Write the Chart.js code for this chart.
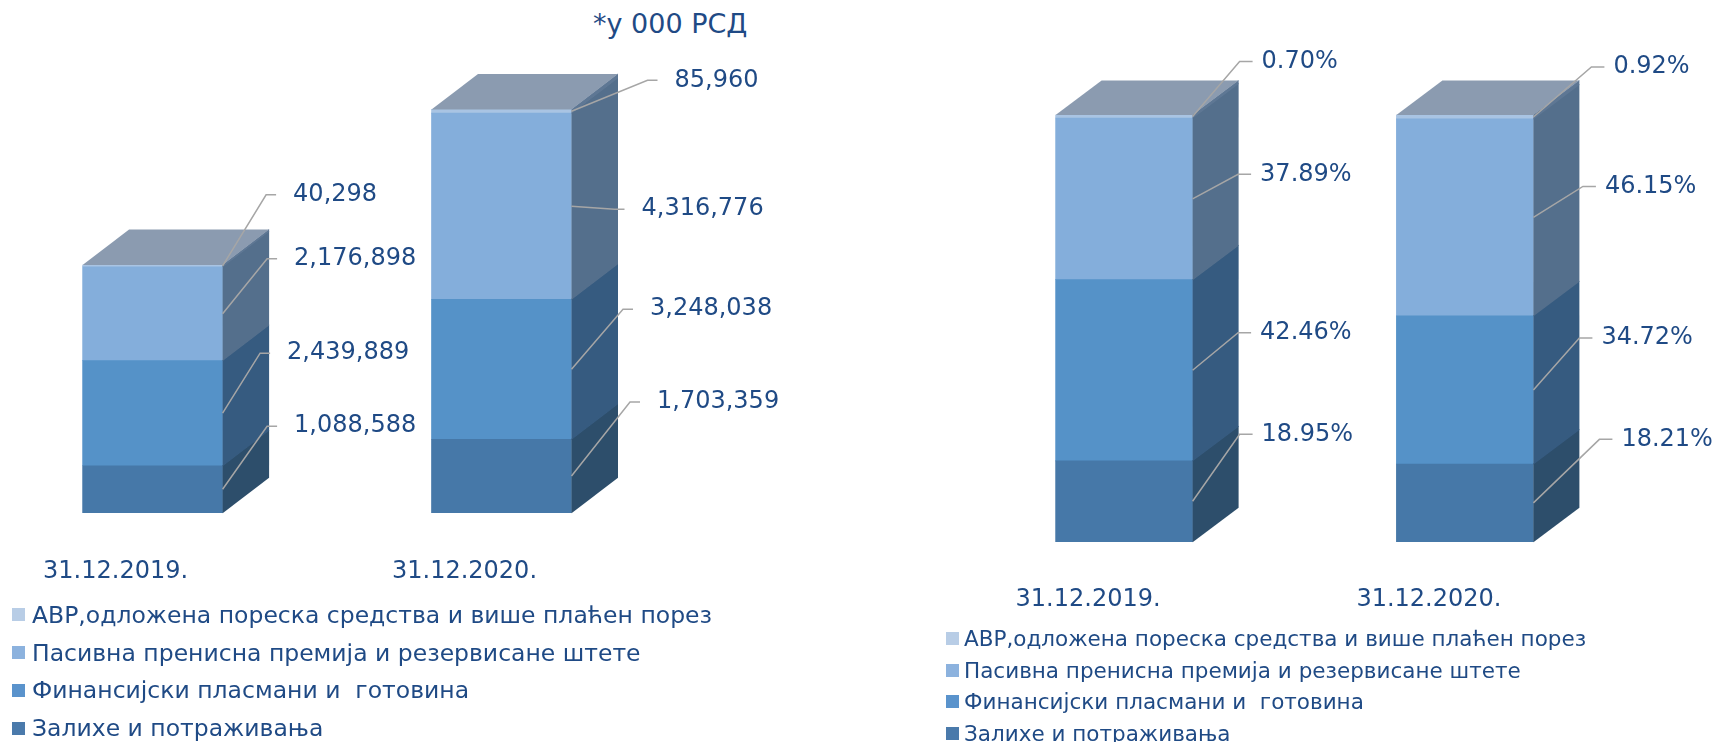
<!DOCTYPE html>
<html>
<head>
<meta charset="utf-8">
<script src="https://cdn.jsdelivr.net/npm/chart.js@4.4.1/dist/chart.umd.min.js"></script>
<style>
    body { margin: 0; width: 1715px; height: 742px; overflow: hidden; background: #fff; font-family: "DejaVu Sans", sans-serif; color: #1F4A85; }
    canvas { position: absolute; top: 0; }
    #amounts { left: 0; }
    #shares { left: 857px; }
    #unit { position: absolute; left: 593px; top: 9px; font-size: 27px; line-height: 30px; white-space: nowrap; }
    .legend { position: absolute; }
    .legend .row { display: flex; align-items: center; white-space: pre; }
    .legend .box { width: 13px; height: 13px; flex: none; }
</style>
</head>
<body>
<div id="unit"></div>
<canvas id="amounts" width="857" height="742"></canvas>
<canvas id="shares" width="858" height="742"></canvas>
<div class="legend" id="legendLeft" style="left:12px; top:596px; font-size:23.5px;"></div>
<div class="legend" id="legendRight" style="left:946px; top:623px; font-size:21.5px;"></div>

<script>
// categories and series, bottom of the stack first
const categories = ['31.12.2019.', '31.12.2020.'];
const seriesNames = [
    'Залихе и потраживања',
    'Финансијски пласмани и  готовина',
    'Пасивна пренисна премија и резервисане штете',
    'АВР,одложена пореска средства и више плаћен порез'
];
const unitNote = '*у 000 РСД';

// amounts, in 000 RSD
const zalihe = [1088588, 1703359];
const finansijski = [2439889, 3248038];
const pasivna = [2176898, 4316776];
const avr = [40298, 85960];

// structure, %
const zaliheShare = [18.95, 18.21];
const finansijskiShare = [42.46, 34.72];
const pasivnaShare = [37.89, 46.15];
const avrShare = [0.70, 0.92];

// styling
const FONT = 'DejaVu Sans';
const textColor = '#1F4A85';
const frontColors = ['#4678A8', '#5592C8', '#84AEDB', '#A9C4E3'];
const sideColors = ['#2D4E6B', '#365B80', '#546F8C', '#5E7794'];
const topColor = '#8B9BB0';
const legendColors = ['#4A7AAB', '#5A93CC', '#8CB2DE', '#B8CDE6'];

// leader elbow offsets [dx from bar edge, dy from segment middle], per series, per bar
const leftOffsets = [
    [[44.5, -63], [58.5, -74]],
    [[37.5, -60], [51.5, -60]],
    [[44.5, -55], [43, 3]],
    [[43.5, -71], [76, -31]]
];
const rightOffsets = [
    [[47, -67], [66, -63.5]],
    [[45.5, -37.5], [46, -52]],
    [[45.5, -24.5], [49.5, -31]],
    [[47, -55], [58, -50]]
];

const bar3d = {
    id: 'bar3d',
    afterDatasetsDraw(chart, args, opts) {
        const ctx = chart.ctx;
        const metas = chart.data.datasets.map((d, i) => chart.getDatasetMeta(i));
        const last = metas.length - 1;
        ctx.save();

        // side faces
        metas.forEach((meta, di) => {
            meta.data.forEach(bar => {
                const p = bar.getProps(['x', 'y', 'base', 'width'], true);
                const r = p.x + p.width / 2;
                ctx.fillStyle = sideColors[di];
                ctx.beginPath();
                ctx.moveTo(r, p.base + 0.5);
                ctx.lineTo(r, p.y - 0.5);
                ctx.lineTo(r + opts.dx, p.y + opts.dy - 0.5);
                ctx.lineTo(r + opts.dx, p.base + opts.dy + 0.5);
                ctx.closePath();
                ctx.fill();
            });
        });

        // top faces
        metas[last].data.forEach(bar => {
            const p = bar.getProps(['x', 'y', 'width'], true);
            const l = p.x - p.width / 2, r = p.x + p.width / 2;
            ctx.fillStyle = topColor;
            ctx.beginPath();
            ctx.moveTo(l, p.y);
            ctx.lineTo(r, p.y);
            ctx.lineTo(r + opts.dx, p.y + opts.dy);
            ctx.lineTo(l + opts.dx, p.y + opts.dy);
            ctx.closePath();
            ctx.fill();
        });

        // leader lines and value labels
        ctx.font = '24px "' + FONT + '"';
        ctx.textBaseline = 'middle';
        ctx.textAlign = 'left';
        metas.forEach((meta, di) => {
            meta.data.forEach((bar, bi) => {
                const p = bar.getProps(['x', 'y', 'base', 'width'], true);
                const r = p.x + p.width / 2;
                const mid = (p.y + p.base) / 2;
                const [ox, oy] = opts.offsets[di][bi];
                const ex = r + ox, ey = mid + oy;
                ctx.strokeStyle = '#A6A6A6';
                ctx.lineWidth = 1.5;
                ctx.beginPath();
                ctx.moveTo(r, mid);
                ctx.lineTo(ex, ey);
                ctx.lineTo(ex + opts.tick, ey);
                ctx.stroke();
                ctx.fillStyle = textColor;
                const v = chart.data.datasets[di].data[bi];
                ctx.fillText(opts.format(v), ex + opts.tick + opts.gap, ey);
            });
        });
        ctx.restore();
    }
};

function makeDatasets(series, thickness) {
    return series.map((data, i) => ({
        label: seriesNames[i],
        data: data,
        backgroundColor: frontColors[i],
        borderWidth: 0,
        barThickness: thickness,
        clip: false
    }));
}

function xAxis(padding, labelOffset) {
    return {
        stacked: true,
        offset: false,
        grid: { display: false, drawTicks: false },
        border: { display: false },
        ticks: {
            color: textColor,
            font: { family: FONT, size: 24 },
            padding: padding,
            labelOffset: labelOffset,
            maxRotation: 0,
            autoSkip: false
        },
        afterFit: (scale) => { scale.height = 100; }
    };
}

new Chart(document.getElementById('amounts'), {
    type: 'bar',
    data: {
        labels: categories,
        datasets: makeDatasets([zalihe, finansijski, pasivna, avr], 140)
    },
    options: {
        responsive: false,
        animation: false,
        layout: { padding: { left: 152.6, right: 355.5, top: 81.6, bottom: 129.3 } },
        scales: {
            x: xAxis(44.6, -37),
            y: { stacked: true, display: false, min: 0, max: 10000000 }
        },
        plugins: {
            legend: { display: false },
            tooltip: { enabled: false },
            bar3d: {
                dx: 46.5, dy: -35.5, tick: 10, gap: 17,
                offsets: leftOffsets,
                format: v => v.toLocaleString('en-US')
            }
        }
    },
    plugins: [bar3d]
});

new Chart(document.getElementById('shares'), {
    type: 'bar',
    data: {
        labels: categories,
        datasets: makeDatasets([zaliheShare, finansijskiShare, pasivnaShare, avrShare], 137)
    },
    options: {
        responsive: false,
        animation: false,
        layout: { padding: { left: 267.1, right: 250.1, top: 115, bottom: 100.3 } },
        scales: {
            x: xAxis(43.9, -36),
            y: { stacked: true, display: false, min: 0, max: 100 }
        },
        plugins: {
            legend: { display: false },
            tooltip: { enabled: false },
            bar3d: {
                dx: 46, dy: -34.5, tick: 13, gap: 9,
                offsets: rightOffsets,
                format: v => v.toFixed(2) + '%'
            }
        }
    },
    plugins: [bar3d]
});

// legends, top entry is the top of the stack
function buildLegend(id, rowHeight, gap) {
    const box = document.getElementById(id);
    for (let i = seriesNames.length - 1; i >= 0; i--) {
        const row = document.createElement('div');
        row.className = 'row';
        row.style.height = rowHeight + 'px';
        const sw = document.createElement('span');
        sw.className = 'box';
        sw.style.background = legendColors[i];
        sw.style.marginRight = gap + 'px';
        const txt = document.createElement('span');
        txt.textContent = seriesNames[i];
        row.appendChild(sw);
        row.appendChild(txt);
        box.appendChild(row);
    }
}
buildLegend('legendLeft', 37.8, 7);
buildLegend('legendRight', 31.5, 5);

document.getElementById('unit').textContent = unitNote;
</script>
</body>
</html>
